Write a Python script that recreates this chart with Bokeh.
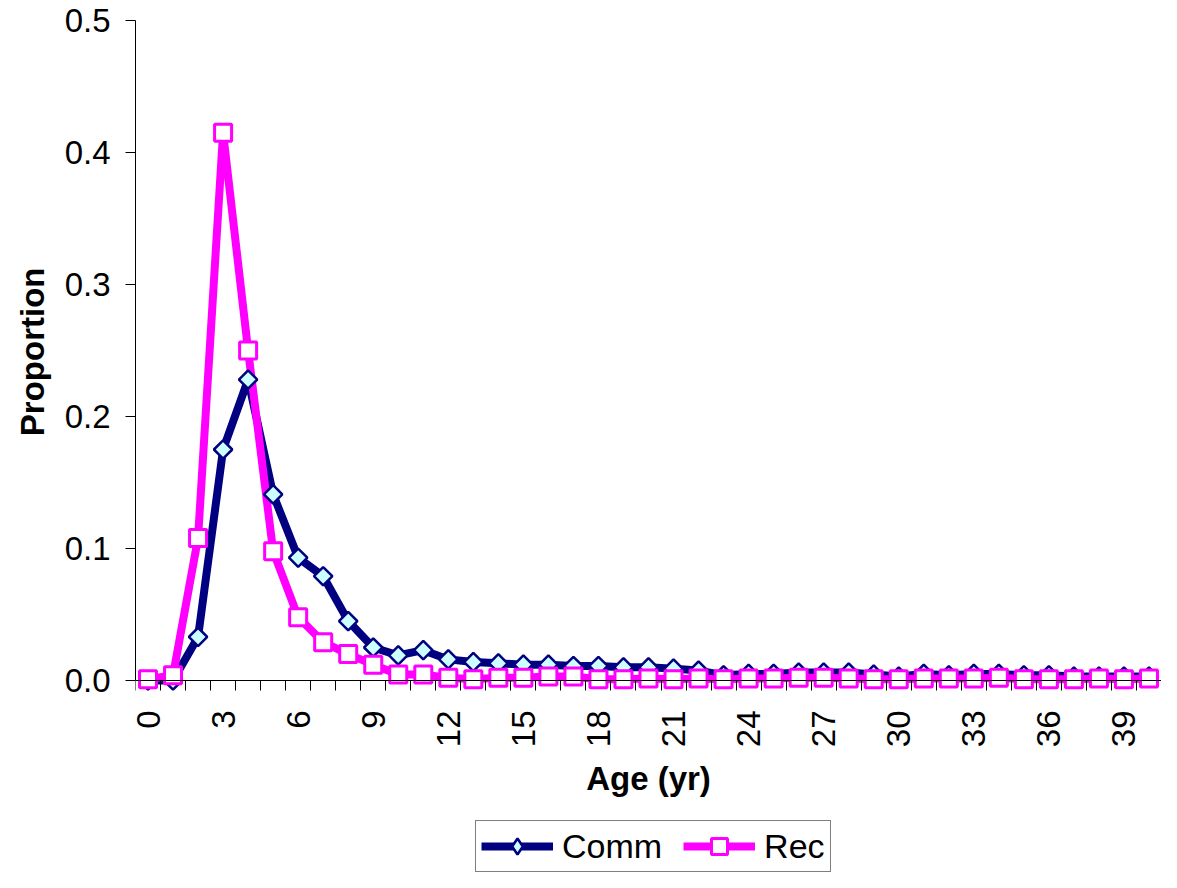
import math
from bokeh.plotting import figure
from bokeh.models import (FixedTicker, Legend, LegendItem, ColumnDataSource, Range1d,
                          CustomJSTickFormatter, Title)
from bokeh.embed import file_html
from bokeh.resources import INLINE

ages = list(range(0, 41))
comm = [0.000, 0.000, 0.033, 0.175, 0.228, 0.141, 0.093, 0.079, 0.045, 0.025,
        0.019, 0.023, 0.016, 0.014, 0.013, 0.012, 0.012, 0.011, 0.011, 0.010,
        0.010, 0.009, 0.0075, 0.004, 0.005, 0.005, 0.006, 0.006, 0.006, 0.0045,
        0.003, 0.005, 0.004, 0.005, 0.005, 0.004, 0.004, 0.003, 0.003, 0.003, 0.003]
rec = [0.001, 0.004, 0.108, 0.415, 0.250, 0.098, 0.048, 0.029, 0.020, 0.012,
       0.0045, 0.0045, 0.002, 0.001, 0.002, 0.002, 0.003, 0.003, 0.001, 0.001,
       0.0015, 0.001, 0.0015, 0.001, 0.0015, 0.0015, 0.002, 0.002, 0.0015, 0.001,
       0.001, 0.0015, 0.0015, 0.0015, 0.002, 0.001, 0.001, 0.001, 0.0015, 0.001, 0.0015]
x_tick_labels = [str(a) for a in range(0, 40, 3)]
y_ticks = [0.0, 0.1, 0.2, 0.3, 0.4, 0.5]
series_names = ["Comm", "Rec"]

FONT = "Liberation Sans"
W, H = 1161, 872
TOP, BOTTOM, LEFT, RIGHT = 20, 0, 135, 0
ZERO_PX = 680  # pixel row (figure coords) of y = 0
Y_MAX = 0.5
px_per_unit = (ZERO_PX - TOP) / Y_MAX
y_start = -((H - BOTTOM) - ZERO_PX) / px_per_unit

src = ColumnDataSource(dict(age=ages, comm=comm, rec=rec))
# legend-only proxy source (a single point that is never drawn on the plot)
proxy = ColumnDataSource(dict(x=[float("nan")], y=[float("nan")]))

p = figure(width=W, height=H, output_backend="svg", toolbar_location=None,
           x_range=Range1d(-0.5, 40.5), y_range=Range1d(y_start, Y_MAX),
           min_border_left=LEFT, min_border_top=TOP, min_border_bottom=BOTTOM,
           min_border_right=RIGHT)
p.outline_line_color = None
p.grid.visible = False
p.background_fill_color = "white"
p.border_fill_color = "white"

NAVY, CYAN, MAGENTA = "#000080", "#CCFFFF", "#FF00FF"
c_line = p.line("age", "comm", source=src, line_color=NAVY, line_width=8)
r_line = p.line("age", "rec", source=src, line_color=MAGENTA, line_width=8)
c_mark = p.scatter("age", "comm", source=src, marker="square", angle=math.pi / 4, size=13,
                   fill_color=CYAN, line_color=NAVY, line_width=2.5)
r_mark = p.scatter("age", "rec", source=src, marker="square", size=17,
                   fill_color="white", line_color=MAGENTA, line_width=3)
c_leg = p.scatter("x", "y", source=proxy, marker="diamond",
                  fill_color=CYAN, line_color=NAVY, line_width=2.5)

# x axis, pinned at y = 0
xa = p.xaxis[0]
xa.fixed_location = 0
xa.ticker = FixedTicker(ticks=[int(t) for t in x_tick_labels],
                        minor_ticks=[a - 0.5 for a in ages] + [40.5])
xa.major_tick_out = 0
xa.major_tick_in = 0
xa.minor_tick_out = 10
xa.minor_tick_in = 0
xa.minor_tick_line_color = "black"
xa.axis_line_color = "black"
xa.major_label_orientation = math.pi / 2
xa.major_label_text_font = FONT
xa.major_label_text_font_size = "33px"
xa.major_label_text_color = "black"
xa.major_label_standoff = 20
xa.axis_label = "Age (yr)"
xa.axis_label_text_font = FONT
xa.axis_label_text_font_size = "33px"
xa.axis_label_text_font_style = "bold"
xa.axis_label_text_color = "black"
xa.axis_label_standoff = 10

ya = p.yaxis[0]
ya.bounds = (0, Y_MAX)
ya.ticker = FixedTicker(ticks=y_ticks, minor_ticks=[])
ya.formatter = CustomJSTickFormatter(code="return tick.toFixed(1);")
ya.major_tick_out = 10
ya.major_tick_in = 0
ya.axis_line_color = "black"
ya.axis_line_width = 1
ya.major_label_text_font = FONT
ya.major_label_text_font_size = "33px"
ya.major_label_text_color = "black"
ya.major_label_standoff = 15

ytitle = Title(text="Proportion", align="right", offset=247, standoff=22,
               text_font=FONT, text_font_size="33px", text_font_style="bold",
               text_color="black")
p.add_layout(ytitle, "left")

legend = Legend(items=[LegendItem(label=series_names[0], renderers=[c_line, c_leg]),
                       LegendItem(label=series_names[1], renderers=[r_line, r_mark])],
                orientation="horizontal", location=(340, 0),
                label_text_font=FONT, label_text_font_size="34px", label_text_color="black",
                glyph_width=72, glyph_height=40, label_standoff=9, spacing=21,
                padding=5, margin=0,
                border_line_color="black", border_line_width=1,
                background_fill_alpha=1.0)
p.add_layout(legend, "center")

open("out.html", "w").write(file_html(p, INLINE))
